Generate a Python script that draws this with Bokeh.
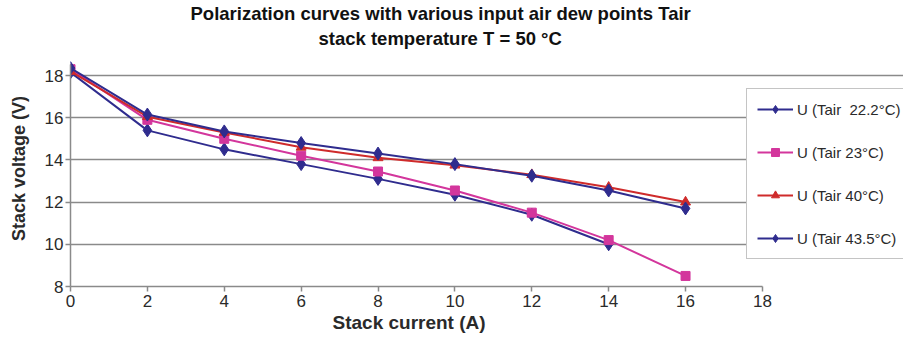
from bokeh.plotting import figure
from bokeh.models import Range1d, FixedTicker, Legend, LegendItem, Title
from bokeh.embed import file_html
from bokeh.resources import INLINE

# ---- data ----
current = [0, 2, 4, 6, 8, 10, 12, 14, 16]
current_22_2 = [0, 2, 4, 6, 8, 10, 12, 14]
u_22_2 = [18.15, 15.4, 14.5, 13.8, 13.1, 12.35, 11.4, 10.0]
u_23 = [18.3, 15.9, 15.0, 14.2, 13.45, 12.55, 11.5, 10.2, 8.5]
u_40 = [18.2, 16.05, 15.3, 14.6, 14.1, 13.75, 13.3, 12.7, 12.0]
u_43_5 = [18.35, 16.15, 15.35, 14.8, 14.3, 13.8, 13.25, 12.55, 11.7]
series_labels = ["U (Tair  22.2°C)", "U (Tair 23°C)", "U (Tair 40°C)", "U (Tair 43.5°C)"]
x_ticks = [0, 2, 4, 6, 8, 10, 12, 14, 16, 18]
y_ticks = [8, 10, 12, 14, 16, 18]
title_lines = ["Polarization curves with various input air dew points Tair",
               "stack temperature T = 50 °C"]
x_title = "Stack current (A)"
y_title = "Stack voltage (V)"

FONT = "Liberation Sans"
BLUE = "#2f2c8e"
PINK = "#d3369c"
RED = "#cf2b2b"
GRID = "#8a8a8a"
TXT = "#2a2a2a"

p = figure(width=903, height=335, output_backend="svg", toolbar_location=None,
           x_range=Range1d(0, 21.67), y_range=Range1d(8, 19.185),
           min_border_left=70, min_border_top=50, min_border_bottom=49,
           min_border_right=0, background_fill_color="white",
           border_fill_color="white")
p.outline_line_color = None

# title (two lines)
p.title.text = title_lines[0]
p.title.align = "left"
p.title.offset = 120
p.title.text_font = FONT
p.title.text_font_size = "18.5px"
p.title.text_font_style = "bold"
p.title.text_color = "#111111"
p.title.standoff = 0
sub = Title(text=title_lines[1], align="left", offset=248, text_font=FONT,
            text_font_size="18.5px", text_font_style="bold", text_color="#111111",
            standoff=4)
p.add_layout(sub, "above")

# axes
p.xaxis.ticker = FixedTicker(ticks=x_ticks)
p.yaxis.ticker = FixedTicker(ticks=y_ticks)
p.xaxis.bounds = (0, 18)
p.yaxis.bounds = (8, 18.52)
for ax in (p.xaxis, p.yaxis):
    ax.axis_line_color = GRID
    ax.axis_line_width = 1.5
    ax.major_tick_line_color = GRID
    ax.major_tick_line_width = 1.5
    ax.major_tick_out = 5
    ax.major_tick_in = 0
    ax.minor_tick_line_color = None
    ax.major_label_text_font = FONT
    ax.major_label_text_font_size = "17px"
    ax.major_label_text_color = TXT
    ax.axis_label_text_font = FONT
    ax.axis_label_text_font_size = "18px"
    ax.axis_label_text_font_style = "bold"
    ax.axis_label_text_color = TXT
p.xaxis.major_label_standoff = 3
p.yaxis.major_label_standoff = 2
p.yaxis.axis_label = y_title
p.yaxis.axis_label_standoff = 13

# x-axis title, placed below the axis and centred under the 0-18 span
xlab = Title(text=x_title, align="left", offset=262, text_font=FONT,
             text_font_size="19px", text_font_style="bold", text_color=TXT,
             standoff=0)
p.add_layout(xlab, "below")

# grid
p.xgrid.grid_line_color = None
p.ygrid.ticker = FixedTicker(ticks=[10, 12, 14, 16, 18])
p.ygrid.grid_line_color = GRID
p.ygrid.grid_line_width = 1.5
p.ygrid.bounds = (0, 18)

# series
r1l = p.line(current_22_2, u_22_2, line_color=BLUE, line_width=2)
r1m = p.scatter(current_22_2, u_22_2, marker="diamond", size=13,
                fill_color=BLUE, line_color=BLUE)
r2l = p.line(current, u_23, line_color=PINK, line_width=2)
r2m = p.scatter(current, u_23, marker="square", size=9,
                fill_color=PINK, line_color=PINK)
r3l = p.line(current, u_40, line_color=RED, line_width=2)
r3m = p.scatter(current, u_40, marker="triangle", size=10,
                fill_color=RED, line_color=RED)
r4l = p.line(current, u_43_5, line_color=BLUE, line_width=2)
r4m = p.scatter(current, u_43_5, marker="diamond", size=13,
                fill_color=BLUE, line_color=BLUE)

legend = Legend(items=[
    LegendItem(label=series_labels[0], renderers=[r1l, r1m]),
    LegendItem(label=series_labels[1], renderers=[r2l, r2m]),
    LegendItem(label=series_labels[2], renderers=[r3l, r3m]),
    LegendItem(label=series_labels[3], renderers=[r4l, r4m]),
], location=(676, 27))
legend.label_text_font = FONT
legend.label_text_font_size = "15px"
legend.label_text_color = TXT
legend.glyph_width = 36
legend.glyph_height = 20
legend.label_height = 20
legend.label_standoff = 4
legend.spacing = 23
legend.padding = 10
legend.margin = 0
legend.border_line_color = GRID
legend.border_line_width = 1.5
legend.background_fill_color = "white"
legend.background_fill_alpha = 1.0
p.add_layout(legend, "center")

open("out.html", "w").write(file_html(p, INLINE))
